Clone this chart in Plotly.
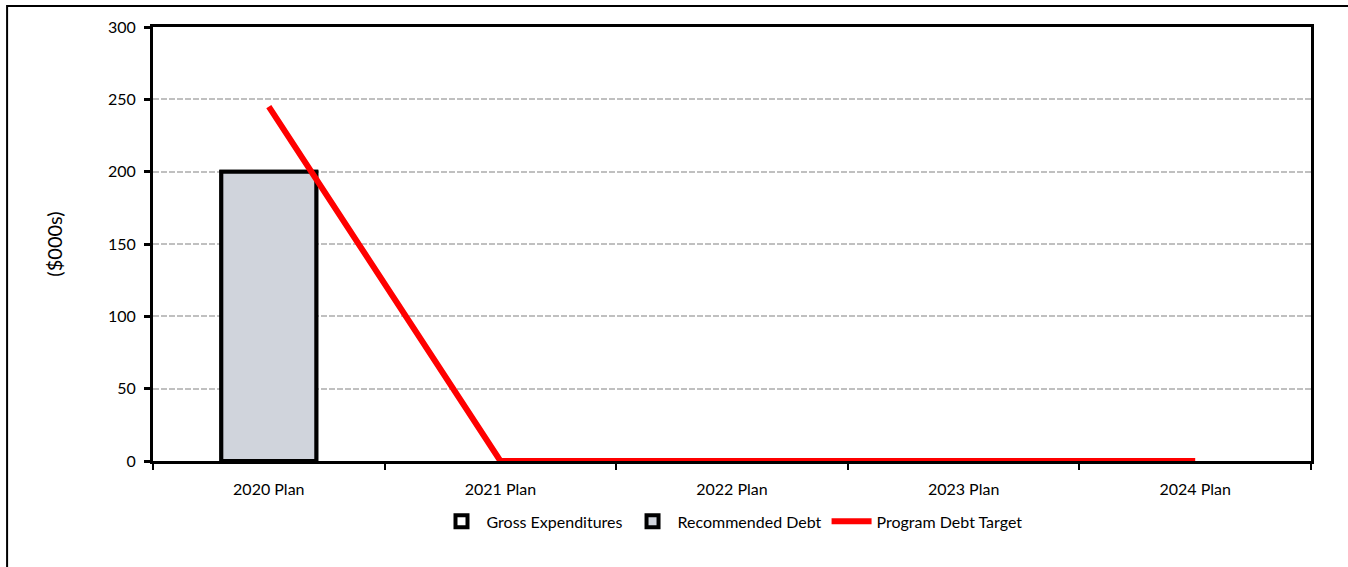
import plotly.graph_objects as go

categories = ["2020 Plan", "2021 Plan", "2022 Plan", "2023 Plan", "2024 Plan"]
gross_expenditures = [200, None, None, None, None]
recommended_debt = [200, None, None, None, None]
program_debt_target = [245, 0, 0, 0, 0]

FONT = "Lato"

fig = go.Figure()
fig.add_trace(go.Bar(
    x=categories, y=gross_expenditures, name="Gross Expenditures",
    marker=dict(color="white", line=dict(color="black", width=4)),
    width=0.41,
))
fig.add_trace(go.Bar(
    x=categories, y=recommended_debt, name="Recommended Debt",
    marker=dict(color="#d0d4dc", line=dict(color="black", width=4)),
    width=0.41,
))
fig.add_trace(go.Scatter(
    x=categories, y=program_debt_target, name="Program Debt Target",
    mode="lines", line=dict(color="#ff0000", width=6),
))

# outer chart frame (partially visible)
fig.add_shape(type="rect", xref="paper", yref="paper",
              x0=-0.126, x1=1.2, y0=-0.5, y1=1.0484,
              line=dict(color="black", width=2), layer="below")

fig.update_layout(
    width=1348, height=567,
    margin=dict(l=153, r=37, t=27, b=106),
    paper_bgcolor="white", plot_bgcolor="white",
    barmode="overlay",
    font=dict(family=FONT, size=16, color="black"),
    showlegend=True,
    legend=dict(orientation="h", x=0.5, xanchor="center", y=-0.1, yanchor="top",
                font=dict(family=FONT, size=16), traceorder="normal",
                itemwidth=40, tracegroupgap=0),
    xaxis=dict(
        showline=True, linecolor="black", linewidth=3, mirror=True,
        ticks="outside", tickson="boundaries", ticklen=6, tickwidth=2, tickcolor="black",
        showgrid=False, tickfont=dict(family=FONT, size=16), ticklabelstandoff=12,
    ),
    yaxis=dict(
        range=[0, 300], dtick=50,
        showline=True, linecolor="black", linewidth=3, mirror=True,
        ticks="outside", ticklen=6, tickwidth=3, tickcolor="black",
        showgrid=True, gridcolor="#c0c0c0", gridwidth=2, griddash="6px,2px",
        zeroline=False, ticklabelstandoff=5,
        title=dict(text="($000s)", font=dict(family=FONT, size=20), standoff=40),
        tickfont=dict(family=FONT, size=16),
    ),
)

fig.write_html("out.html", config={"displayModeBar": False},
               post_script="document.body.style.margin='0';document.body.style.overflow='hidden';")
